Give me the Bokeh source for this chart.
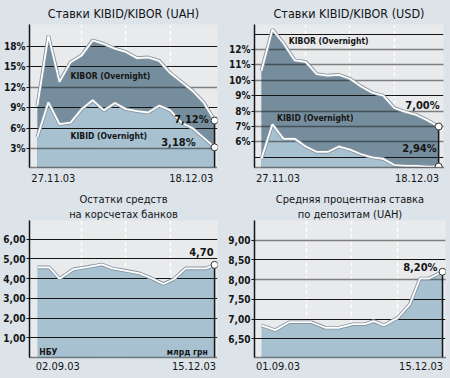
from bokeh.plotting import figure
from bokeh.layouts import column, row
from bokeh.models import Label, FixedTicker, Title
from bokeh.embed import file_html
from bokeh.resources import INLINE

# ---------------- data ----------------
uah_kibor = [9.3, 19.6, 12.8, 15.7, 16.7, 18.9, 18.4, 17.7, 17.2, 16.3, 16.4, 15.9, 14.1, 12.8, 11.5, 9.8, 7.12]
uah_kibid = [4.7, 9.8, 6.6, 6.8, 8.8, 10.1, 8.6, 9.7, 8.8, 8.5, 8.3, 9.3, 8.6, 6.8, 6.0, 4.6, 3.18]

usd_kibor = [10.6, 13.3, 12.4, 11.3, 11.2, 10.4, 10.3, 10.35, 10.1, 9.6, 9.2, 9.0, 8.2, 7.95, 7.75, 7.4, 7.0]
usd_kibid = [4.9, 7.15, 6.2, 6.2, 5.7, 5.35, 5.35, 5.7, 5.5, 5.2, 5.0, 4.9, 4.5, 4.45, 4.45, 4.4, 4.4]

nbu_days = [0, 7, 13, 21, 30, 38, 44, 52, 60, 67, 74, 80, 87, 93, 99, 104]
nbu_balance = [4.57, 4.57, 4.0, 4.47, 4.6, 4.72, 4.52, 4.4, 4.27, 4.02, 3.73, 3.97, 4.52, 4.52, 4.52, 4.70]

dep_days = [0, 8, 16, 22, 29, 37, 45, 53, 60, 65, 71, 79, 86, 92, 97, 105]
dep_rate = [6.84, 6.72, 6.92, 6.92, 6.92, 6.78, 6.78, 6.87, 6.87, 6.95, 6.84, 7.03, 7.37, 8.03, 8.03, 8.20]

titles = [["Ставки KIBID/KIBOR (UAH)"], ["Ставки KIBID/KIBOR (USD)"],
          ["Остатки средств", "на корсчетах банков"],
          ["Средняя процентная ставка", "по депозитам (UAH)"]]
dates = [("27.11.03", "18.12.03"), ("27.11.03", "18.12.03"),
         ("02.09.03", "15.12.03"), ("01.09.03", "15.12.03")]
last_labels = [("7,12%", "3,18%"), ("7,00%", "2,94%"), ("4,70",), ("8,20%",)]
series_names = ["KIBOR (Overnight)", "KIBID (Overnight)"]
unit_labels = ["НБУ", "млрд грн"]

uah_ticks = [3, 6, 9, 12, 15, 18]
uah_tick_labels = ["3%", "6%", "9%", "12%", "15%", "18%"]
uah_solid = [6, 9, 15, 18]
uah_dotted = [3, 12]

usd_ticks = [6, 7, 8, 9, 10, 11, 12]
usd_tick_labels = ["6%", "7%", "8%", "9%", "10%", "11%", "12%"]
usd_solid = [5, 9, 13]
usd_dotted = [6, 7, 8, 10, 11, 12]

nbu_ticks = [1, 2, 3, 4, 5, 6]
nbu_tick_labels = ["1,00", "2,00", "3,00", "4,00", "5,00", "6,00"]
nbu_solid = [1, 2, 3, 4, 5, 6]
nbu_dotted = []

dep_ticks = [6.5, 7.0, 7.5, 8.0, 8.5, 9.0]
dep_tick_labels = ["6,50", "7,00", "7,50", "8,00", "8,50", "9,00"]
dep_solid = [6.5, 7.0, 7.5, 8.5]
dep_dotted = [8.0, 9.0]

# ---------------- style ----------------
FONT = "DejaVu Sans Condensed"
BG = "#dce4ea"
PLOT_BG = "#e9eaec"
DARK = "#758d9d"
LIGHT = "#a7c1d1"
INK = "#151515"
BG_STYLE = {"background-color": BG}


def make_fig(width, height, borders, xr, yr, ticks, tick_labels, vgrid,
             title_lines, title_size, title_offset, title_standoffs,
             date_ticks, date_labels, date_standoff):
    left, right, top, bottom = borders
    p = figure(width=width, height=height, x_range=xr, y_range=yr,
               output_backend="svg", toolbar_location=None, title=None,
               min_border_left=left, min_border_right=right,
               min_border_top=top, min_border_bottom=bottom, styles=BG_STYLE)
    p.border_fill_color = BG
    p.background_fill_color = PLOT_BG
    p.outline_line_color = None

    # lines nearest the frame are added first
    for line, so in zip(reversed(title_lines), title_standoffs):
        p.add_layout(Title(text=line, align="center", offset=title_offset,
                           standoff=so, text_font=FONT, text_line_height=1.0,
                           text_font_size=title_size, text_font_style="normal",
                           text_color=INK), "above")

    p.yaxis.ticker = FixedTicker(ticks=ticks)
    p.yaxis.major_label_overrides = {float(t): s for t, s in zip(ticks, tick_labels)}
    p.yaxis.axis_line_color = INK
    p.yaxis.axis_line_width = 1.5
    p.yaxis.major_tick_line_color = INK
    p.yaxis.major_tick_in = 0
    p.yaxis.major_tick_out = 3
    p.yaxis.minor_tick_line_color = None
    p.yaxis.major_label_standoff = 1
    p.yaxis.major_label_text_font = FONT
    p.yaxis.major_label_text_font_size = "10px"
    p.yaxis.major_label_text_font_style = "bold"
    p.yaxis.major_label_text_color = INK

    p.xaxis.ticker = FixedTicker(ticks=date_ticks)
    p.xaxis.major_label_overrides = {float(t): s for t, s in zip(date_ticks, date_labels)}
    p.xaxis.axis_line_color = INK
    p.xaxis.axis_line_width = 1.5
    p.xaxis.axis_line_dash = "1 1"
    p.xaxis.major_tick_line_color = None
    p.xaxis.minor_tick_line_color = None
    p.xaxis.major_tick_out = 0
    p.xaxis.major_tick_in = 0
    p.xaxis.major_label_standoff = date_standoff
    p.xaxis.major_label_text_font = FONT
    p.xaxis.major_label_text_font_size = "11px"
    p.xaxis.major_label_text_color = INK

    p.ygrid.visible = False
    p.xgrid.ticker = FixedTicker(ticks=vgrid)
    p.xgrid.grid_line_color = "white"
    p.xgrid.grid_line_width = 1.5
    p.xgrid.grid_line_dash = "4 3"
    return p


def hlines(p, solid, dotted):
    if solid:
        p.hspan(y=solid, line_color=INK, line_width=1.1)
    if dotted:
        p.hspan(y=dotted, line_color=INK, line_width=1.3, line_dash="1 1")


def curve(p, xs, ys):
    p.line(xs, ys, line_color="#8796a1", line_width=3.6)
    p.line(xs, ys, line_color="white", line_width=1.8)


def txt(p, x, y, text, size, style="bold", align="left", xo=0, yo=0):
    p.add_layout(Label(x=x, y=y, text=text,
                       text_font=FONT, text_font_size=size, text_font_style=style,
                       text_color=INK, text_align=align, text_baseline="middle",
                       x_offset=xo, y_offset=yo))


def end_marks(p, x, ys, ybottom):
    p.segment(x0=[x], y0=[max(ys)], x1=[x], y1=[ybottom], line_color=INK, line_width=1.5)
    p.scatter([x] * len(ys), ys, size=7, marker="circle", fill_color="white",
              line_color="#333333", line_width=1)


# ---------------- panel 1: UAH ----------------
n1 = len(uah_kibor)
x1 = list(range(n1))
y1r = (0.21, 21.24)
p1 = make_fig(225, 190, (25, 8, 24, 23), (-0.707, n1 - 1 + 0.265), y1r,
              uah_ticks, uah_tick_labels, [(n1 - 1) * f for f in (0.25, 0.5, 0.75)],
              titles[0], "12.5px", -7, [7], [1.45, n1 - 1 - 2.1], dates[0], 6)
p1.varea(x1, y1=y1r[0], y2=uah_kibor, fill_color=DARK)
p1.varea(x1, y1=y1r[0], y2=uah_kibid, fill_color=LIGHT)
hlines(p1, uah_solid, uah_dotted)
curve(p1, x1, uah_kibor)
curve(p1, x1, uah_kibid)
end_marks(p1, x1[-1], [uah_kibor[-1], uah_kibid[-1]], y1r[0])
txt(p1, 3.0, 13.7, series_names[0], "8.5px")
txt(p1, 3.0, 4.9, series_names[1], "8.5px")
txt(p1, x1[-1], uah_kibor[-1], last_labels[0][0], "11px", align="right", xo=-6, yo=1)
txt(p1, x1[-1], uah_kibid[-1], last_labels[0][1], "11px", align="right", xo=-19, yo=5)

# ---------------- panel 2: USD ----------------
n2 = len(usd_kibor)
x2 = list(range(n2))
y2r = (4.34, 13.62)
p2 = make_fig(225, 190, (25, 7, 24, 23), (-0.619, n2 - 1 + 0.44), y2r,
              usd_ticks, usd_tick_labels, [(n2 - 1) * f for f in (0.25, 0.5, 0.75)],
              titles[1], "12.5px", -9, [7], [1.5, n2 - 1 - 1.95], dates[1], 6)
p2.varea(x2, y1=y2r[0], y2=usd_kibor, fill_color=DARK)
p2.varea(x2, y1=y2r[0], y2=usd_kibid, fill_color=LIGHT)
hlines(p2, usd_solid, usd_dotted)
curve(p2, x2, usd_kibor)
curve(p2, x2, usd_kibid)
end_marks(p2, x2[-1], [usd_kibor[-1], usd_kibid[-1]], y2r[0])
txt(p2, 2.48, 12.58, series_names[0], "8.5px")
txt(p2, 1.41, 7.52, series_names[1], "8.5px")
txt(p2, x2[-1], usd_kibor[-1], last_labels[1][0], "11px", align="right", xo=1, yo=21)
txt(p2, x2[-1], usd_kibid[-1], last_labels[1][1], "11px", align="right", xo=-2, yo=18)

# ---------------- panel 3: NBU balances ----------------
y3r = (0.0, 6.95)
span3 = nbu_days[-1]
p3 = make_fig(225, 188, (25, 8, 28, 21), (-4.6, span3 + 1.72), y3r,
              nbu_ticks, nbu_tick_labels, [span3 * f for f in (0.25, 0.5, 0.75)],
              titles[2], "11px", -9, [0, 0], [12.0, span3 - 12.1], dates[2], 4)
p3.varea(nbu_days, y1=y3r[0], y2=nbu_balance, fill_color=LIGHT)
hlines(p3, nbu_solid, nbu_dotted)
curve(p3, nbu_days, nbu_balance)
end_marks(p3, nbu_days[-1], [nbu_balance[-1]], y3r[0])
txt(p3, 1.15, 0.3, unit_labels[0], "8.5px")
txt(p3, 100, 0.3, unit_labels[1], "8.5px", align="right")
txt(p3, nbu_days[-1], nbu_balance[-1], last_labels[2][0], "11px", align="right", xo=-1, yo=13)

# ---------------- panel 4: deposit rate ----------------
y4r = (6.025, 9.5)
span4 = dep_days[-1]
p4 = make_fig(225, 188, (28, 5, 27, 21), (-4.04, span4 + 1.73), y4r,
              dep_ticks, dep_tick_labels, [span4 * f for f in (0.25, 0.5, 0.75)],
              titles[3], "11px", -11, [0, 0], [9.6, span4 - 12.4], dates[3], 4)
p4.varea(dep_days, y1=y4r[0], y2=dep_rate, fill_color=LIGHT)
hlines(p4, dep_solid, dep_dotted)
curve(p4, dep_days, dep_rate)
end_marks(p4, dep_days[-1], [dep_rate[-1]], y4r[0])
txt(p4, dep_days[-1], dep_rate[-1], last_labels[3][0], "11px", align="right", xo=-5, yo=4)

layout = column(row(p1, p2, spacing=0, styles=BG_STYLE),
                row(p3, p4, spacing=0, styles=BG_STYLE),
                spacing=0, styles=BG_STYLE)
open("out.html", "w").write(file_html(layout, INLINE))
